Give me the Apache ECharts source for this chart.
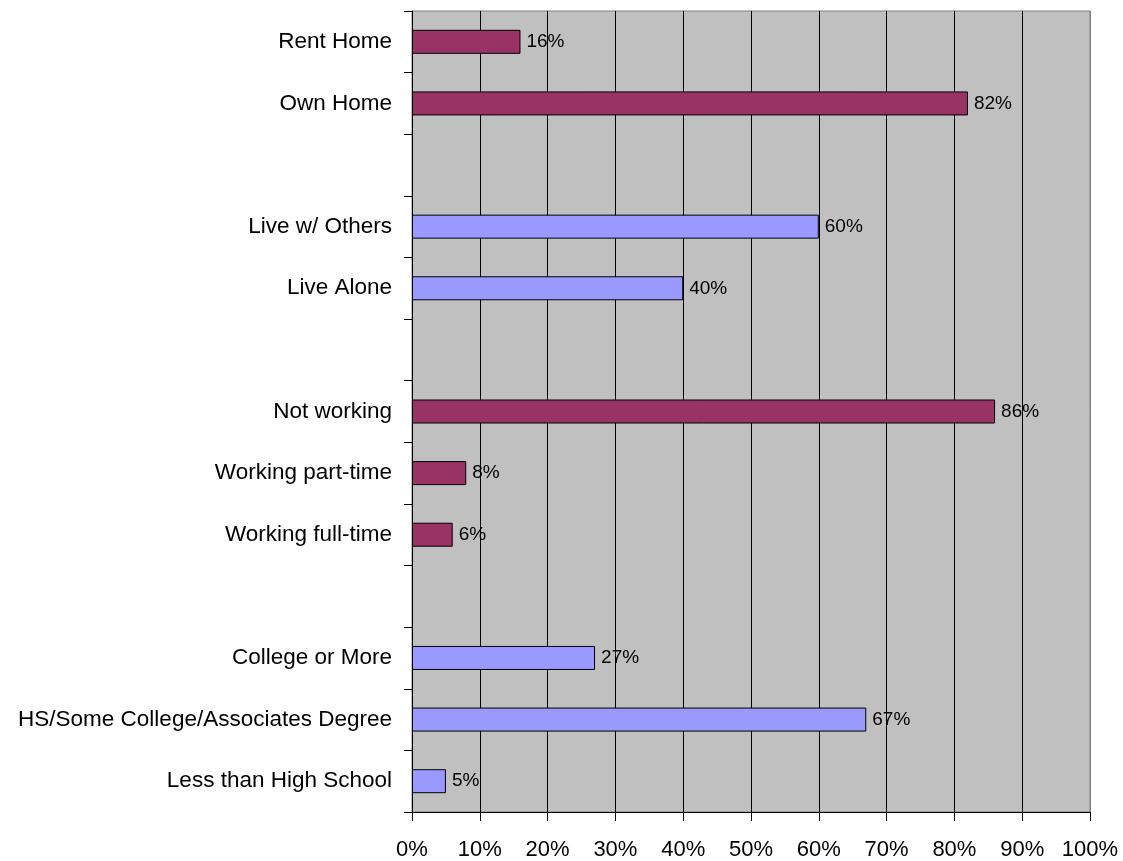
<!DOCTYPE html>
<html>
<head>
<meta charset="utf-8">
<script src="https://cdn.jsdelivr.net/npm/echarts@6/dist/echarts.min.js"></script>
<style>
html,body{margin:0;padding:0;background:#fff;}
#chart{width:1123px;height:861px;}
</style>
</head>
<body>
<div id="chart"></div>
<script>
// Categories listed bottom to top (blank slots separate the groups)
const categories = [
  'Less than High School',
  'HS/Some College/Associates Degree',
  'College or More',
  ' ',
  'Working full-time',
  'Working part-time',
  'Not working',
  '  ',
  'Live Alone',
  'Live w/ Others',
  '   ',
  'Own Home',
  'Rent Home'
];
// Maroon bars (home ownership, employment)
const maroonValues = [null, null, null, null, 6, 8, 86, null, null, null, null, 82, 16];
// Lavender bars (education, living arrangement)
const lavenderValues = [5, 67, 27, null, null, null, null, null, 40, 60, null, null, null];
const xTicks = [0, 10, 20, 30, 40, 50, 60, 70, 80, 90, 100];

const FONT = 'Liberation Sans, Arial, sans-serif';
const gridColors = xTicks.map((t, i) => i === xTicks.length - 1 ? '#808080' : '#000000');

const labelCfg = {
  show: true,
  position: 'right',
  distance: 6,
  formatter: '{c}%',
  color: '#000',
  fontFamily: FONT,
  fontSize: 19
};

const chart = echarts.init(document.getElementById('chart'), null, {renderer: 'canvas'});
chart.setOption({
  animation: false,
  backgroundColor: '#ffffff',
  grid: {
    left: 412, right: 33, top: 11, bottom: 48,
    show: true,
    backgroundColor: '#C0C0C0',
    borderColor: '#808080',
    borderWidth: 1
  },
  xAxis: {
    type: 'value',
    min: 0, max: 100, interval: 10,
    axisLine: {show: true, lineStyle: {color: '#000', width: 1}},
    axisTick: {show: true, length: 9, lineStyle: {color: '#000'}},
    axisLabel: {
      formatter: '{value}%', color: '#000', fontFamily: FONT, fontSize: 22, margin: 27
    },
    splitLine: {show: true, lineStyle: {color: gridColors, width: 1}}
  },
  yAxis: {
    type: 'category',
    data: categories,
    axisLine: {show: true, lineStyle: {color: '#000', width: 1}},
    axisTick: {show: true, length: 8, alignWithLabel: false, lineStyle: {color: '#000'}},
    axisLabel: {color: '#000', fontFamily: FONT, fontSize: 22.5, margin: 20},
    splitLine: {show: false}
  },
  series: [
    {
      type: 'bar',
      data: maroonValues,
      barWidth: 24,
      barGap: '-100%',
      itemStyle: {color: '#993366', borderColor: '#000', borderWidth: 1},
      label: labelCfg
    },
    {
      type: 'bar',
      data: lavenderValues,
      barWidth: 24,
      barGap: '-100%',
      itemStyle: {color: '#9999FF', borderColor: '#000', borderWidth: 1},
      label: labelCfg
    }
  ]
});
</script>
</body>
</html>
